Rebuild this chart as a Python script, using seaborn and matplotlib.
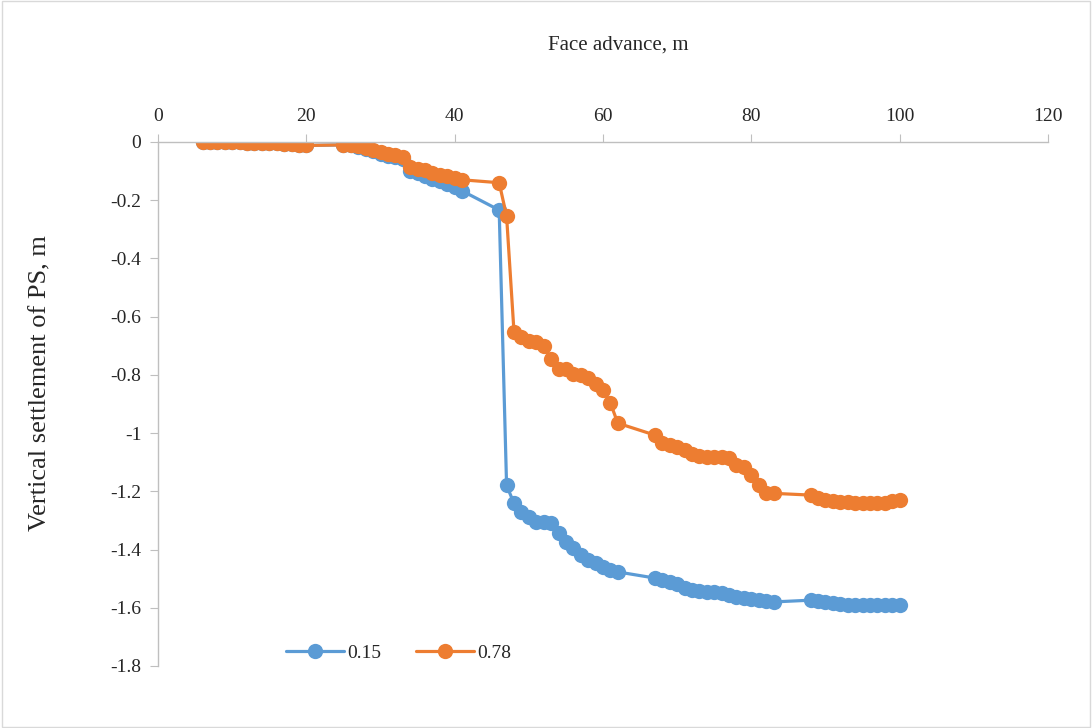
import matplotlib
matplotlib.use("Agg")
import matplotlib.pyplot as plt
import seaborn as sns
import numpy as np
import pandas as pd

# ---- data ----
x_values = (list(range(6, 21)) + list(range(25, 42)) + list(range(46, 63))
            + list(range(67, 84)) + list(range(88, 101)))

series_015 = [
    # 6..20
    0, 0, 0, 0, 0, -0.001, -0.002, -0.002, -0.003, -0.004, -0.005, -0.006, -0.008, -0.010, -0.012,
    # 25..41
    -0.010, -0.012, -0.016, -0.023, -0.032, -0.040, -0.047, -0.053, -0.058,
    -0.100, -0.108, -0.117, -0.126, -0.135, -0.145, -0.155, -0.168,
    # 46..62
    -0.234, -1.180, -1.241, -1.270, -1.288, -1.305, -1.305, -1.310, -1.344, -1.374,
    -1.395, -1.419, -1.436, -1.447, -1.460, -1.470, -1.477,
    # 67..83
    -1.498, -1.505, -1.510, -1.520, -1.533, -1.540, -1.543, -1.545, -1.547, -1.550,
    -1.557, -1.563, -1.567, -1.570, -1.575, -1.577, -1.580,
    # 88..100
    -1.574, -1.577, -1.580, -1.584, -1.587, -1.590, -1.591, -1.591, -1.591, -1.591,
    -1.591, -1.591, -1.591,
]

series_078 = [
    # 6..20
    0, 0, 0, 0, 0, -0.001, -0.002, -0.002, -0.003, -0.004, -0.005, -0.006, -0.008, -0.010, -0.012,
    # 25..41
    -0.010, -0.012, -0.015, -0.020, -0.027, -0.033, -0.040, -0.046, -0.052,
    -0.085, -0.092, -0.098, -0.105, -0.112, -0.118, -0.124, -0.130,
    # 46..62
    -0.140, -0.255, -0.653, -0.670, -0.684, -0.687, -0.700, -0.746, -0.780, -0.780,
    -0.797, -0.800, -0.810, -0.830, -0.852, -0.897, -0.966,
    # 67..83
    -1.007, -1.034, -1.040, -1.048, -1.058, -1.072, -1.079, -1.082, -1.082, -1.083,
    -1.086, -1.110, -1.116, -1.144, -1.179, -1.207, -1.207,
    # 88..100
    -1.213, -1.223, -1.230, -1.234, -1.237, -1.238, -1.240, -1.240, -1.240, -1.240,
    -1.240, -1.232, -1.230,
]

series_names = ["0.15", "0.78"]
x_ticks = [0, 20, 40, 60, 80, 100, 120]
y_ticks = [0, -0.2, -0.4, -0.6, -0.8, -1.0, -1.2, -1.4, -1.6, -1.8]
y_tick_labels = ["0", "-0.2", "-0.4", "-0.6", "-0.8", "-1", "-1.2", "-1.4", "-1.6", "-1.8"]

df = pd.DataFrame({
    "x": x_values * 2,
    "y": series_015 + series_078,
    "series": [series_names[0]] * len(x_values) + [series_names[1]] * len(x_values),
})

# ---- style ----
sns.set_style("white")
plt.rcParams["font.family"] = ["Liberation Serif", "DejaVu Serif"]
plt.rcParams["axes.unicode_minus"] = False

fig = plt.figure(figsize=(10.92, 7.28), dpi=100)
ax = fig.add_axes([0.1447, 0.0852, 0.815, 0.7198])

palette = {"0.15": "#5B9BD5", "0.78": "#ED7D31"}
sns.lineplot(data=df, x="x", y="y", hue="series", palette=palette,
             marker="o", markersize=11, markeredgewidth=0, linewidth=2.3,
             estimator=None, sort=True, ax=ax)

ax.set_xlim(0, 120)
ax.set_ylim(-1.8, 0)
ax.set_xticks(x_ticks)
ax.set_xticklabels([str(t) for t in x_ticks])
ax.set_yticks(y_ticks)
ax.set_yticklabels(y_tick_labels)

axis_col = "#bfbfbf"
for s in ["right", "bottom"]:
    ax.spines[s].set_visible(False)
for s in ["top", "left"]:
    ax.spines[s].set_color(axis_col)
    ax.spines[s].set_linewidth(1.0)

ax.xaxis.tick_top()
ax.xaxis.set_label_position("top")
ax.tick_params(axis="x", which="both", top=True, bottom=False, length=6,
               color=axis_col, labelsize=14, pad=6, direction="out")
ax.tick_params(axis="y", which="both", left=True, length=6,
               color=axis_col, labelsize=14, pad=6, direction="out")

ax.set_xlabel("Face advance, m", fontsize=15)
ax.xaxis.set_label_coords(0.517, 1.176)
ax.set_ylabel("Vertical settlement of PS, m", fontsize=19)
ax.yaxis.set_label_coords(-0.12, 0.54)
ax.grid(False)

leg = ax.legend(loc="center", bbox_to_anchor=(0.27, 0.024), ncol=2, frameon=False,
                fontsize=14, handlelength=3.0, columnspacing=1.8, handletextpad=0.15,
                title=None)

# outer border
fig.patches.append(plt.Rectangle((0.002, 0.002), 0.996, 0.996, transform=fig.transFigure,
                                 fill=False, edgecolor="#d9d9d9", linewidth=1.0))

fig.savefig("out.png", dpi=100)
